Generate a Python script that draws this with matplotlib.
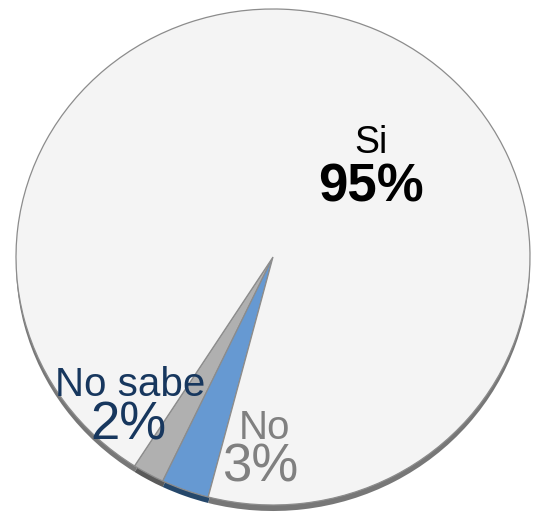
import matplotlib.pyplot as plt

# data
labels = ['No sabe', 'No', 'Si']
values = [2, 3, 95]
pct_labels = ['2%', '3%', '95%']

face_colors = ['#b0b0b0', '#6699d2', '#f4f4f4']
side_colors = ['#5a5a5a', '#26486b', '#777777']
text_colors = ['#17375e', '#808080', '#000000']

W, H = 533, 522
k = 0.965  # vertical squash of the tilted pie
cx, cy = 273, 257  # pie centre in image pixels (y down)
R = 257

fig = plt.figure(figsize=(W / 100, H / 100), dpi=100)
ax = fig.add_axes([0, 0, 1, 1])
ax.set_xlim(0, W)
ax.set_ylim(0, H / k)

center = (cx, (H - cy) / k)
shadow_center = (cx, (H - cy - 6) / k)

# side / shadow of the disc
ax.pie(values, colors=side_colors, startangle=237.4, counterclock=True,
       radius=R, center=shadow_center, frame=True,
       wedgeprops=dict(edgecolor='none'))
# top face
ax.pie(values, colors=face_colors, startangle=237.4, counterclock=True,
       radius=R, center=center, frame=True,
       wedgeprops=dict(edgecolor='#8c8c8c', linewidth=0.9))

ax.set_aspect('auto')
ax.set_xlim(0, W)
ax.set_ylim(0, H / k)
ax.axis('off')


def put(x, y, s, **kw):
    fig.text(x / W, 1 - y / H, s, ha='center', va='center',
             family='Liberation Sans', **kw)


# Si
put(371, 143, labels[2], fontsize=27, color=text_colors[2])
put(371, 187, pct_labels[2], fontsize=38, fontweight='bold', color=text_colors[2])
# No sabe
put(130, 385, labels[0], fontsize=29, color=text_colors[0])
put(128, 426, pct_labels[0], fontsize=38, color=text_colors[0])
# No
put(264, 428, labels[1], fontsize=29, color=text_colors[1])
put(260, 467, pct_labels[1], fontsize=38, color=text_colors[1])

fig.savefig('out.png', dpi=100, facecolor='white')
